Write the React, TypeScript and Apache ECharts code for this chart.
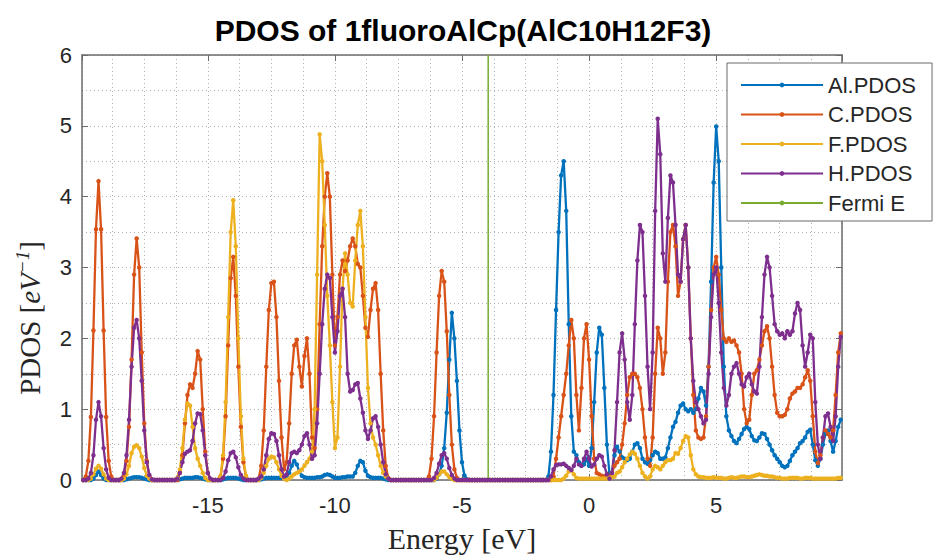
import React, { useEffect, useRef } from "react";
import * as echarts from "echarts";

// Energy grid (eV): first sample and spacing of the tabulated PDOS values
const energyStart = -19.9;
const energyStep = 0.1;

// Each row below = 10 samples (1 eV)
const alPdos = [
  0, 0, 0, 0, 0.02, 0.07, 0.12, 0.07, 0.02, 0,
  0, 0, 0, 0, 0, 0, 0, 0.01, 0.02, 0.03,
  0.04, 0.04, 0.04, 0.03, 0.02, 0.01, 0, 0, 0, 0,
  0, 0, 0, 0, 0, 0, 0, 0, 0.01, 0.02,
  0.03, 0.03, 0.03, 0.03, 0.04, 0.04, 0.03, 0.02, 0.01, 0,
  0, 0, 0, 0, 0, 0.01, 0.02, 0.03, 0.03, 0.03,
  0.03, 0.02, 0.01, 0, 0, 0, 0, 0, 0, 0,
  0.01, 0.02, 0.03, 0.03, 0.03, 0.03, 0.03, 0.03, 0.03, 0.03,
  0.05, 0.1, 0.2, 0.27, 0.22, 0.12, 0.06, 0.04, 0.03, 0.03,
  0.03, 0.03, 0.04, 0.04, 0.05, 0.07, 0.08, 0.07, 0.05, 0.03,
  0.03, 0.03, 0.04, 0.04, 0.05, 0.05, 0.05, 0.1, 0.2, 0.27,
  0.25, 0.13, 0.06, 0.04, 0.03, 0.03, 0.03, 0.03, 0.02, 0.01,
  0, 0, 0, 0, 0, 0, 0, 0, 0, 0,
  0, 0, 0, 0, 0, 0, 0, 0, 0, 0.02,
  0.08, 0.2, 0.45, 0.95, 1.7, 2.36, 2.0, 1.4, 0.7, 0.25,
  0.06, 0.01, 0, 0, 0, 0, 0, 0, 0, 0,
  0, 0, 0, 0, 0, 0, 0, 0, 0, 0,
  0, 0, 0, 0, 0, 0, 0, 0, 0, 0,
  0, 0, 0, 0.05, 0.4, 1.2, 2.4, 3.5, 4.3, 4.5,
  3.8, 2.2, 0.9, 0.4, 0.35, 0.25, 0.2, 0.22, 0.3, 0.2,
  0.45, 1.1, 1.8, 2.15, 2.05, 1.3, 0.5, 0.1, 0.1, 0.35,
  0.47, 0.4, 0.32, 0.3, 0.28, 0.3, 0.4, 0.5, 0.52, 0.45,
  0.3, 0.25, 0.23, 0.28, 0.35, 0.4, 0.38, 0.3, 0.3, 0.32,
  0.45, 0.6, 0.75, 0.82, 0.95, 1.05, 1.08, 1.0, 0.97, 1.0,
  0.95, 1.0, 1.15, 1.3, 1.25, 1.05, 1.6, 2.8, 4.2, 4.99,
  4.5, 3.0, 1.6, 0.9, 0.7, 0.62, 0.55, 0.52, 0.58, 0.65,
  0.72, 0.75, 0.72, 0.62, 0.56, 0.55, 0.6, 0.66, 0.65, 0.58,
  0.5, 0.42, 0.35, 0.3, 0.25, 0.2, 0.18, 0.2, 0.27, 0.35,
  0.4, 0.45, 0.52, 0.55, 0.6, 0.68, 0.71, 0.5, 0.28, 0.2,
  0.3, 0.5, 0.65, 0.7, 0.55, 0.4, 0.55, 0.75, 0.85,
];

const cPdos = [
  0, 0.05, 0.27, 0.89, 2.11, 3.54, 4.22, 3.54, 2.11, 0.89,
  0.27, 0.05, 0, 0, 0, 0, 0.05, 0.27, 0.75, 1.7,
  2.9, 3.41, 3.0, 1.8, 0.8, 0.27, 0.05, 0, 0, 0,
  0, 0, 0, 0, 0, 0, 0, 0, 0.1, 0.35,
  0.8, 1.2, 1.35, 1.3, 1.5, 1.82, 1.7, 1.0, 0.4, 0.1,
  0, 0, 0, 0, 0.05, 0.3, 0.9, 1.9, 2.85, 3.15,
  2.6, 1.6, 0.75, 0.25, 0.05, 0, 0, 0, 0, 0.02,
  0.2, 0.7, 1.6, 2.4, 2.78, 2.8, 2.3, 1.4, 0.6, 0.15,
  0.25, 0.8, 1.5, 1.9, 1.98, 1.6, 1.32, 1.75, 2.0, 1.5,
  0.6, 0.45, 1.0, 2.2, 3.3, 4.0, 4.33, 4.0, 2.9, 1.9,
  2.3, 2.9, 3.1, 2.95, 3.1, 3.3, 3.41, 3.3, 3.05, 3.0,
  2.6, 2.15, 2.02, 2.4, 2.7, 2.78, 2.4, 1.5, 0.7, 0.2,
  0.03, 0, 0, 0, 0, 0, 0, 0, 0, 0,
  0, 0, 0, 0, 0, 0, 0.05, 0.3, 0.9, 1.8,
  2.6, 2.95, 2.8, 2.1, 1.2, 0.5, 0.15, 0.03, 0, 0,
  0, 0, 0, 0, 0, 0, 0, 0, 0, 0,
  0, 0, 0, 0, 0, 0, 0, 0, 0, 0,
  0, 0, 0, 0, 0, 0, 0, 0, 0, 0,
  0, 0, 0, 0, 0, 0.05, 0.3, 0.6, 0.9, 1.2,
  1.5, 1.9, 2.26, 2.0, 1.2, 0.7, 1.3, 2.0, 2.2, 1.7,
  0.9, 0.3, 0.1, 0.08, 0.06, 0.05, 0.08, 0.05, 0.1, 0.2,
  0.25, 0.3, 0.5, 0.8, 1.2, 1.45, 1.5, 1.5, 1.45, 1.3,
  1.0, 0.6, 0.3, 0.2, 0.6, 1.5, 2.15, 2.0, 1.5, 1.8,
  2.8, 3.5, 3.6, 3.3, 2.6, 2.8, 3.4, 3.6, 3.0, 2.0,
  1.2, 0.7, 0.6, 0.58, 0.6, 0.9, 1.6, 2.4, 3.0, 3.15,
  2.9, 2.4, 2.0, 1.95, 2.0, 1.95, 1.97, 1.9, 1.8, 1.5,
  1.0, 0.8, 0.85, 1.2, 1.5, 1.55, 1.7, 1.9, 2.1, 2.17,
  2.0, 1.6, 1.2, 0.95, 0.9, 0.9, 0.92, 1.0, 1.15, 1.22,
  1.25, 1.3, 1.3, 1.35, 1.45, 1.55, 1.4, 0.9, 0.4, 0.24,
  0.35, 0.6, 0.7, 0.65, 0.6, 0.7, 1.2, 1.8, 2.07,
];

const fPdos = [
  0, 0, 0, 0.02, 0.08, 0.16, 0.2, 0.16, 0.08, 0.02,
  0, 0, 0, 0, 0, 0, 0.02, 0.08, 0.2, 0.38,
  0.47, 0.49, 0.45, 0.33, 0.17, 0.06, 0.02, 0, 0, 0,
  0, 0, 0, 0, 0, 0, 0, 0.03, 0.15, 0.45,
  0.85, 1.08, 1.05, 0.75, 0.45, 0.3, 0.2, 0.1, 0.03, 0,
  0, 0, 0, 0, 0.05, 0.35, 1.1, 2.3, 3.5, 3.95,
  3.3, 2.0, 0.9, 0.3, 0.06, 0, 0, 0, 0, 0,
  0.03, 0.1, 0.2, 0.3, 0.33, 0.32, 0.25, 0.15, 0.06, 0.02,
  0, 0.02, 0.05, 0.08, 0.1, 0.12, 0.15, 0.2, 0.25, 0.3,
  0.4, 1.0, 2.9, 4.88, 4.5, 3.6, 2.6, 1.9, 1.1, 0.45,
  0.6, 1.6, 2.7, 3.2, 2.9, 2.5, 2.45, 3.1, 3.6, 3.8,
  3.3, 2.3, 1.3, 0.8, 0.6, 0.5, 0.35, 0.2, 0.1, 0.05,
  0.02, 0, 0, 0, 0, 0, 0, 0, 0, 0,
  0, 0, 0, 0, 0, 0, 0, 0, 0, 0.03,
  0.08, 0.12, 0.12, 0.08, 0.04, 0.02, 0, 0, 0, 0,
  0, 0, 0, 0, 0, 0, 0, 0, 0, 0,
  0, 0, 0, 0, 0, 0, 0, 0, 0, 0,
  0, 0, 0, 0, 0, 0, 0, 0, 0, 0,
  0, 0, 0, 0, 0, 0, 0, 0, 0, 0.02,
  0.06, 0.12, 0.14, 0.08, 0.03, 0.02, 0.02, 0.02, 0.02, 0.02,
  0.02, 0.02, 0.02, 0.02, 0.02, 0.02, 0.02, 0.03, 0.04, 0.05,
  0.1, 0.12, 0.18, 0.25, 0.3, 0.36, 0.4, 0.37, 0.3, 0.2,
  0.1, 0.05, 0.02, 0.05, 0.15, 0.2, 0.18, 0.15, 0.2, 0.25,
  0.28, 0.28, 0.3, 0.38, 0.37, 0.45, 0.55, 0.62, 0.6, 0.35,
  0.15, 0.08, 0.05, 0.04, 0.04, 0.03, 0.03, 0.03, 0.04, 0.03,
  0.03, 0.03, 0.02, 0.02, 0.03, 0.04, 0.03, 0.03, 0.04, 0.05,
  0.05, 0.04, 0.04, 0.05, 0.06, 0.07, 0.08, 0.07, 0.06, 0.06,
  0.05, 0.05, 0.04, 0.03, 0.03, 0.02, 0.02, 0.02, 0.03, 0.03,
  0.03, 0.03, 0.02, 0.02, 0.03, 0.03, 0.03, 0.02, 0.02, 0.02,
  0.02, 0.02, 0.02, 0.02, 0.02, 0.02, 0.02, 0.03, 0.03,
];

const hPdos = [
  0, 0, 0.02, 0.1, 0.35, 0.85, 1.1, 0.9, 0.45, 0.15,
  0.03, 0, 0, 0, 0, 0.02, 0.1, 0.35, 0.85, 1.6,
  2.15, 2.26, 2.0, 1.4, 0.7, 0.25, 0.07, 0.01, 0, 0,
  0, 0, 0, 0, 0, 0, 0, 0.02, 0.1, 0.25,
  0.37, 0.4, 0.42, 0.55, 0.8, 0.94, 0.93, 0.7, 0.35, 0.1,
  0.02, 0, 0, 0, 0, 0.03, 0.12, 0.28, 0.38, 0.4,
  0.32, 0.18, 0.07, 0.02, 0, 0, 0, 0, 0, 0.02,
  0.05, 0.15, 0.35, 0.58, 0.66, 0.65, 0.55, 0.35, 0.15, 0.05,
  0.08, 0.25, 0.38, 0.4, 0.38, 0.42, 0.5, 0.62, 0.66, 0.5,
  0.3, 0.35, 0.8, 1.5, 2.2, 2.7, 2.9, 2.85, 2.3, 1.8,
  2.1, 2.6, 2.7, 2.3, 1.5, 1.25, 1.27, 1.35, 1.37, 1.15,
  0.95, 0.7, 0.58, 0.7, 0.87, 0.9, 0.75, 0.5, 0.25, 0.08,
  0.02, 0, 0, 0, 0, 0, 0, 0, 0, 0,
  0, 0, 0, 0, 0, 0, 0, 0, 0.03, 0.1,
  0.23, 0.35, 0.38, 0.3, 0.17, 0.07, 0.02, 0, 0, 0,
  0, 0, 0, 0, 0, 0, 0, 0, 0, 0,
  0, 0, 0, 0, 0, 0, 0, 0, 0, 0,
  0, 0, 0, 0, 0, 0, 0, 0, 0, 0,
  0, 0, 0, 0, 0.05, 0.15, 0.21, 0.22, 0.22, 0.23,
  0.2, 0.17, 0.14, 0.2, 0.3, 0.22, 0.2, 0.3, 0.4, 0.3,
  0.19, 0.22, 0.3, 0.35, 0.33, 0.2, 0.08, 0.02, 0.1, 0.42,
  1.1, 1.8, 2.07, 1.7, 1.1, 0.85, 1.2, 2.2, 3.1, 3.6,
  3.5, 2.6, 1.6, 1.0, 1.8, 3.8, 5.1, 4.6, 3.2, 2.8,
  3.7, 4.3, 4.2, 3.6, 2.9, 2.8, 3.4, 3.6, 3.0, 2.0,
  1.4, 1.1, 1.0, 0.9, 0.8, 0.85, 1.5, 2.3, 2.9, 3.0,
  2.5, 1.8, 1.3, 1.05, 1.2, 1.5, 1.6, 1.65, 1.5, 1.35,
  1.32, 1.45, 1.5, 1.35, 1.25, 1.22, 1.6, 2.3, 2.9, 3.15,
  3.0, 2.6, 2.2, 2.1, 2.05, 2.07, 2.0, 2.1, 2.05, 2.1,
  2.35, 2.5, 2.4, 1.9, 1.6, 1.8, 2.05, 2.0, 1.1, 0.5,
  0.3, 0.6, 0.9, 0.94, 0.75, 0.55, 0.9, 1.6, 2.02,
];

const fermiEnergy = -3.97;
const fermiLineEnds = [0, 6];

const seriesNames = ["Al.PDOS", "C.PDOS", "F.PDOS", "H.PDOS", "Fermi E"];
const seriesColors = ["#0072BD", "#D95319", "#EDB120", "#7E2F8E", "#77AC30"];

const titleText = "PDOS of 1fluoroAlCp(AlC10H12F3)";
const xAxisTitle = "Energy [eV]";

const X_MIN = -19.95;
const X_MAX = 9.95;

export default function App() {
  const ref = useRef<HTMLDivElement>(null);

  useEffect(() => {
    if (!ref.current) return;
    const chart = echarts.init(ref.current, null, { renderer: "svg" });

    const energy = alPdos.map((_, i) => +(energyStart + energyStep * i).toFixed(2));
    const pdosSets = [alPdos, cPdos, fPdos, hPdos];

    const axisColor = "#6b6b6b";
    const gridColor = "#b0b0b0";
    const labelColor = "#262626";
    const sans = "'Liberation Sans', Arial, Helvetica, sans-serif";
    const serif = "'Liberation Serif', 'Times New Roman', serif";

    const lineSeries: any[] = pdosSets.map((vals, k) => ({
      name: seriesNames[k],
      type: "line",
      data: vals.map((v, i) => [energy[i], v]),
      symbol: "circle",
      symbolSize: 4.5,
      showSymbol: true,
      showAllSymbol: true,
      lineStyle: { width: 2.3, color: seriesColors[k] },
      itemStyle: { color: seriesColors[k] },
      emphasis: { disabled: true },
      silent: true,
    }));

    lineSeries.push({
      name: seriesNames[4],
      type: "line",
      data: fermiLineEnds.map((y) => [fermiEnergy, y]),
      symbol: "none",
      lineStyle: { width: 1.5, color: seriesColors[4] },
      itemStyle: { color: seriesColors[4] },
      emphasis: { disabled: true },
      silent: true,
    });

    const option: any = {
      animation: false,
      backgroundColor: "#ffffff",
      textStyle: { fontFamily: sans },
      grid: { left: 82, right: 91, top: 55, bottom: 76, containLabel: false },
      xAxis: [
        {
          type: "value",
          min: X_MIN,
          max: X_MAX,
          splitNumber: 6,
          axisLine: { show: true, onZero: false, lineStyle: { color: axisColor, width: 1.5 } },
          axisTick: { show: true, inside: true, length: 6, lineStyle: { color: axisColor, width: 1 } },
          axisLabel: {
            show: true,
            margin: 14,
            fontSize: 22,
            color: labelColor,
            fontFamily: sans,
            showMinLabel: false,
            showMaxLabel: false,
          },
          splitLine: { show: true, lineStyle: { color: gridColor, type: [1, 3], width: 1 } },
          minorTick: { show: false, splitNumber: 4 },
          minorSplitLine: { show: true, lineStyle: { color: gridColor, type: [1, 3], width: 1 } },
        },
        {
          type: "value",
          position: "top",
          min: X_MIN,
          max: X_MAX,
          splitNumber: 6,
          axisLine: { show: true, onZero: false, lineStyle: { color: axisColor, width: 1.5 } },
          axisTick: { show: true, inside: true, length: 6, lineStyle: { color: axisColor, width: 1 } },
          axisLabel: { show: false },
          splitLine: { show: false },
        },
      ],
      yAxis: [
        {
          type: "value",
          min: 0,
          max: 6,
          interval: 1,
          axisLine: { show: true, onZero: false, lineStyle: { color: axisColor, width: 1.5 } },
          axisTick: { show: true, inside: true, length: 6, lineStyle: { color: axisColor, width: 1 } },
          axisLabel: { show: true, margin: 10, fontSize: 22, color: labelColor, fontFamily: sans },
          splitLine: { show: true, lineStyle: { color: gridColor, type: [1, 3], width: 1 } },
          minorTick: { show: false, splitNumber: 2 },
          minorSplitLine: { show: true, lineStyle: { color: gridColor, type: [1, 3], width: 1 } },
        },
        {
          type: "value",
          position: "right",
          min: 0,
          max: 6,
          interval: 1,
          axisLine: { show: true, onZero: false, lineStyle: { color: axisColor, width: 1.5 } },
          axisTick: { show: true, inside: true, length: 6, lineStyle: { color: axisColor, width: 1 } },
          axisLabel: { show: false },
          splitLine: { show: false },
        },
      ],
      legend: {
        orient: "vertical",
        left: 727,
        top: 63,
        itemWidth: 82,
        itemHeight: 6,
        itemGap: 7.5,
        padding: [11, 16, 7, 13],
        backgroundColor: "#ffffff",
        borderColor: axisColor,
        borderWidth: 1,
        selectedMode: false,
        textStyle: { fontFamily: sans, fontSize: 22, color: labelColor },
        data: seriesNames,
      },
      graphic: [
        {
          type: "text",
          x: 463,
          y: 30,
          style: {
            text: titleText,
            fontFamily: sans,
            fontSize: 30,
            fontWeight: "bold",
            fill: "#000000",
            textAlign: "center",
            textVerticalAlign: "middle",
          },
          silent: true,
        },
        {
          type: "text",
          x: 462,
          y: 538,
          style: {
            text: xAxisTitle,
            fontFamily: serif,
            fontSize: 30,
            fill: labelColor,
            textAlign: "center",
            textVerticalAlign: "middle",
          },
          silent: true,
        },
        {
          type: "text",
          x: 30,
          y: 318,
          rotation: Math.PI / 2,
          style: {
            text: "{r|PDOS [}{i|eV}{s|−1}{r|]}",
            fontFamily: serif,
            fontSize: 29,
            fill: labelColor,
            textAlign: "center",
            textVerticalAlign: "middle",
            rich: {
              r: { fontFamily: serif, fontSize: 29, fill: labelColor },
              i: { fontFamily: serif, fontSize: 29, fontStyle: "italic", fill: labelColor },
              s: { fontFamily: serif, fontSize: 19, fontStyle: "italic", fill: labelColor, padding: [0, 0, 16, 0] },
            },
          },
          silent: true,
        },
      ],
      series: lineSeries,
    };

    chart.setOption(option);
    return () => {
      chart.dispose();
    };
  }, []);

  return (
    <div
      ref={ref}
      style={{ position: "fixed", left: 0, top: 0, width: 933, height: 556, background: "#fff" }}
    />
  );
}
